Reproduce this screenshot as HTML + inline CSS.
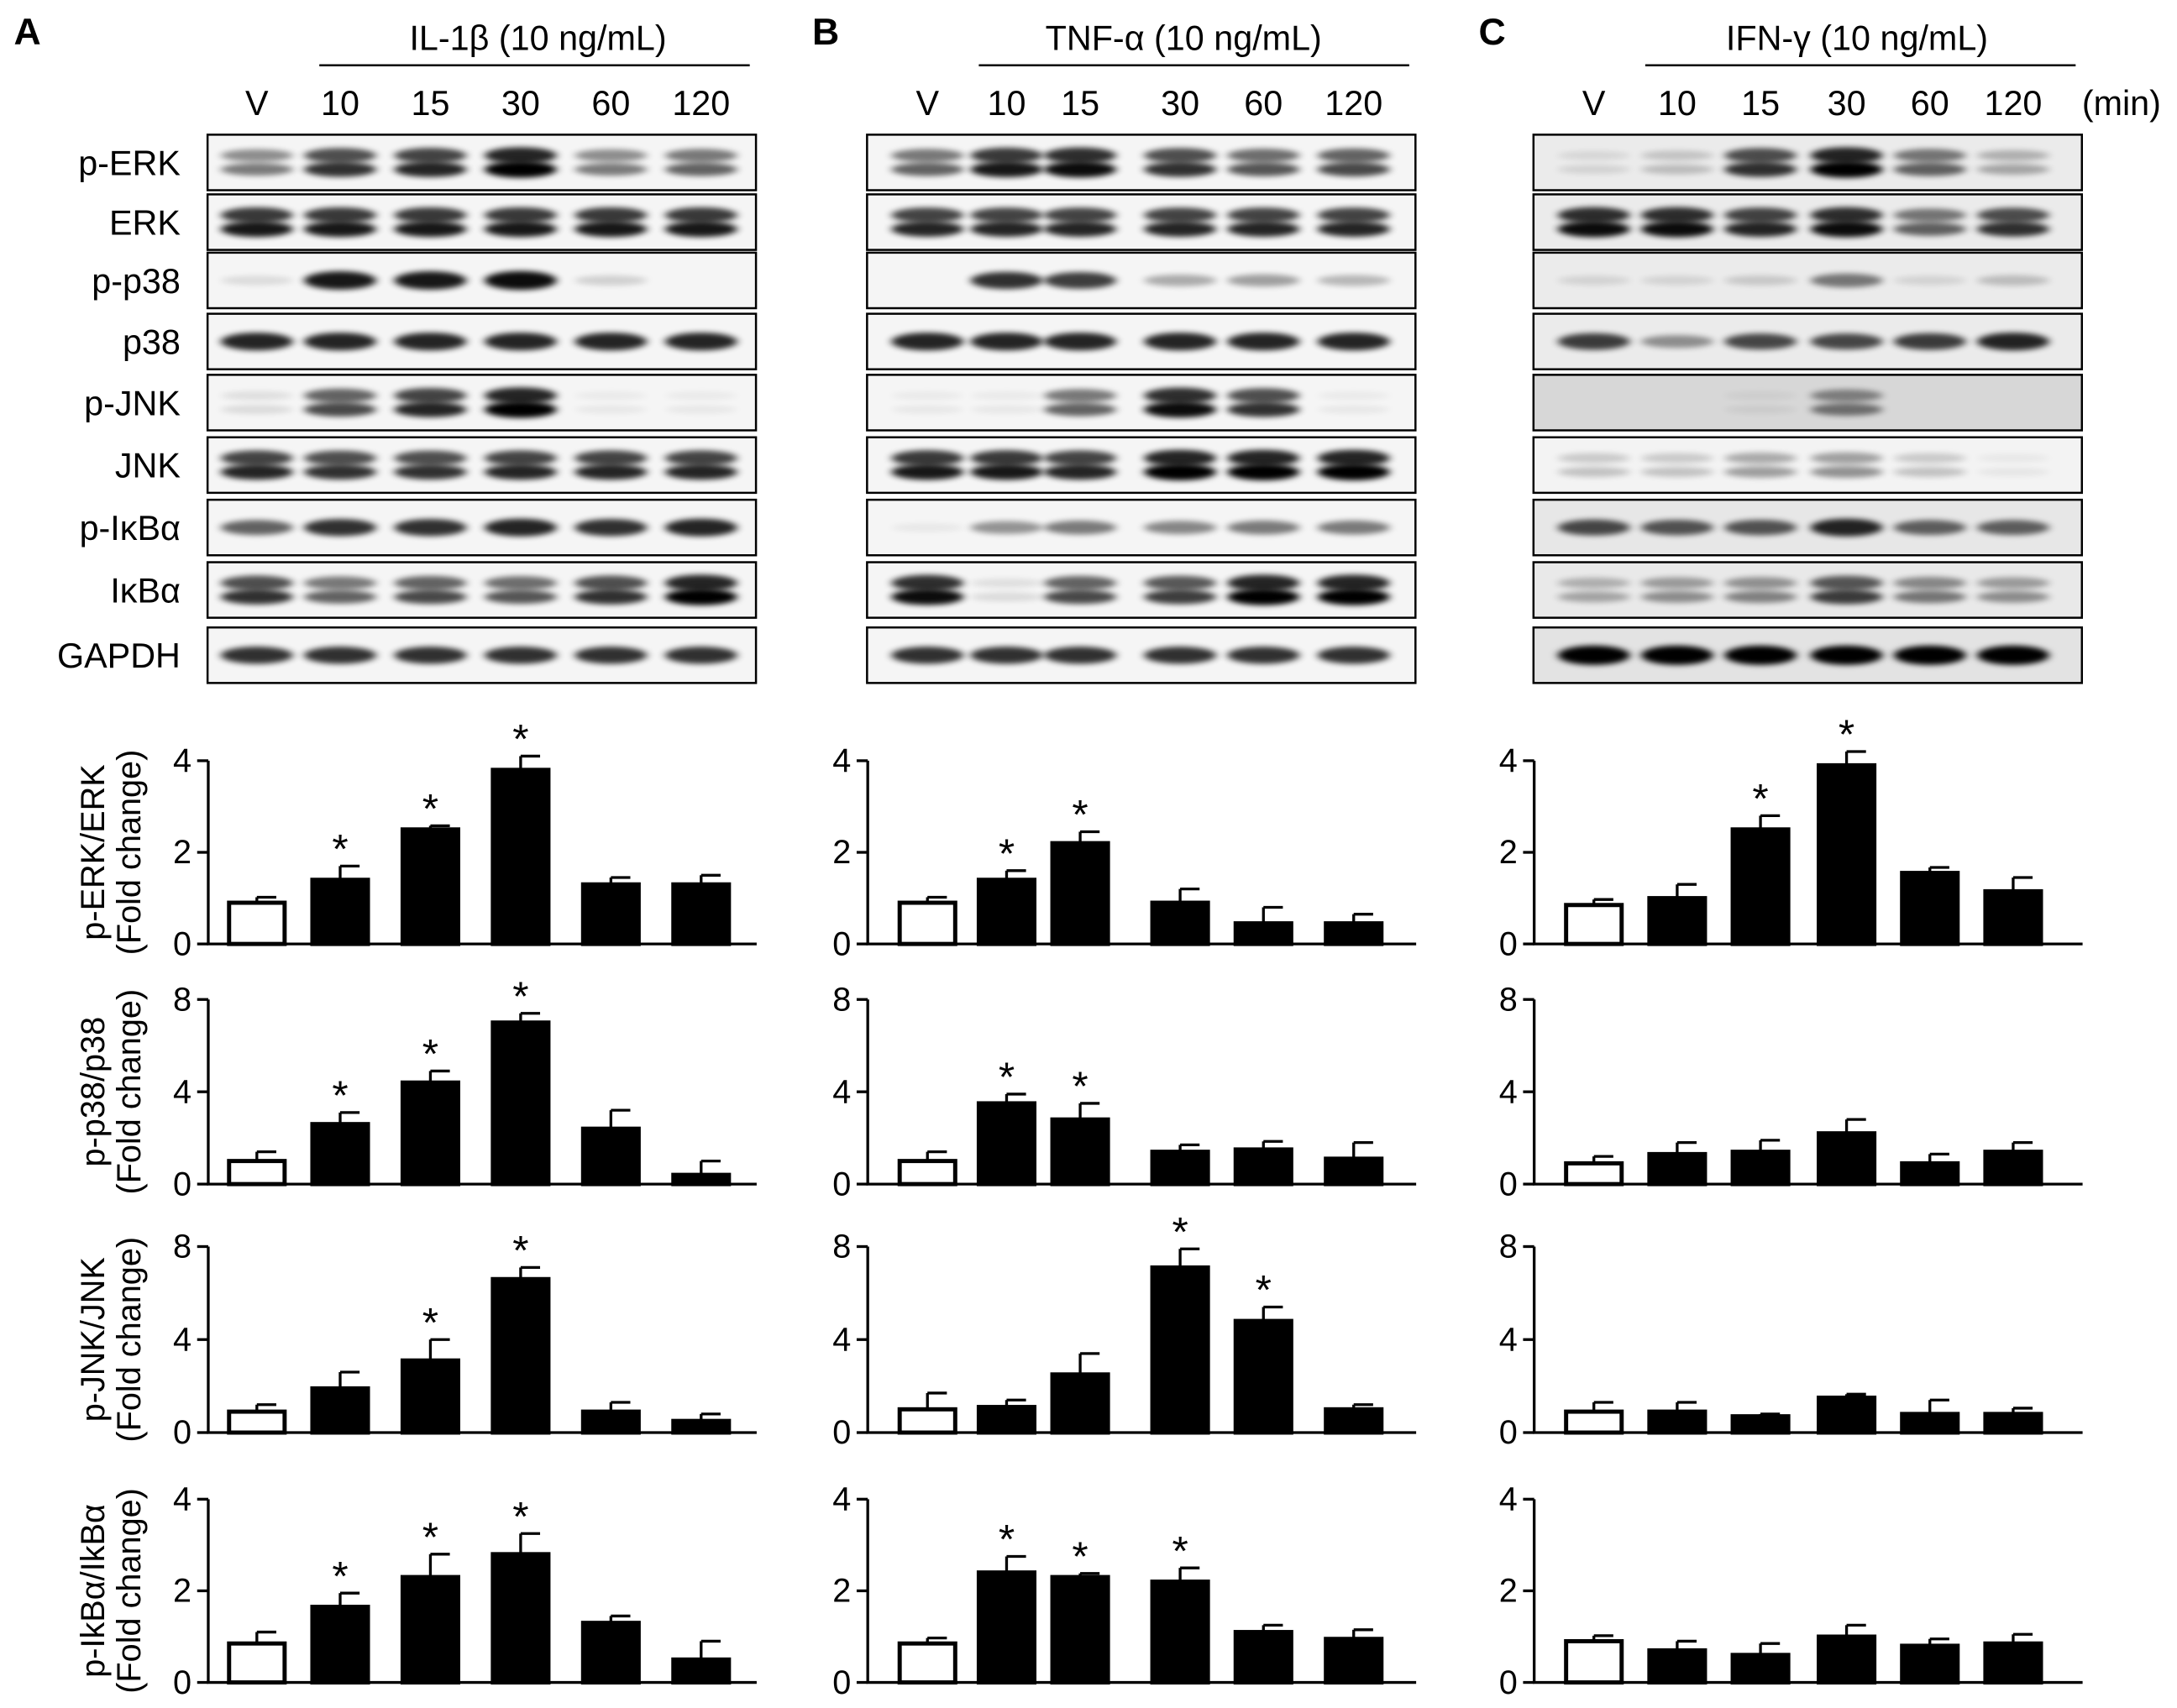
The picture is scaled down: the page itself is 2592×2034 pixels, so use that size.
<!DOCTYPE html>
<html><head><meta charset="utf-8">
<style>
html,body{margin:0;padding:0;background:#fff;}
svg{display:block;font-family:"Liberation Sans",Arial,sans-serif;}
</style></head>
<body>
<svg id="fig" width="2592" height="2034" viewBox="0 0 1568 1230.4" xmlns="http://www.w3.org/2000/svg">
<defs>
<filter id="blur" x="-20%" y="-100%" width="140%" height="300%"><feGaussianBlur stdDeviation="3 2"/></filter>
</defs>
</svg>
<script>
const lanes = ["V","10","15","30","60","120"];
const blotRows = ["p-ERK","ERK","p-p38","p38","p-JNK","JNK","p-IκBα","IκBα","GAPDH"];
const panelTitles = ["IL-1β (10 ng/mL)","TNF-α (10 ng/mL)","IFN-γ (10 ng/mL)"];
const panelLetters = ["A","B","C"];
const bandsA = [[0.5,0.8,0.85,1,0.5,0.6],[0.9,0.9,0.9,0.9,0.9,0.9],[0.1,0.9,0.9,0.95,0.15,0],[0.85,0.85,0.85,0.85,0.85,0.85],[0.1,0.7,0.85,1,0.05,0.05],[0.85,0.8,0.8,0.85,0.85,0.85],[0.6,0.8,0.8,0.85,0.8,0.85],[0.8,0.6,0.7,0.65,0.8,1],[0.8,0.8,0.8,0.8,0.8,0.8]];
const bandsB = [[0.6,0.9,0.95,0.8,0.65,0.7],[0.85,0.85,0.85,0.85,0.85,0.85],[0,0.8,0.75,0.3,0.35,0.25],[0.85,0.85,0.85,0.85,0.85,0.85],[0.05,0.05,0.6,0.95,0.8,0.05],[0.9,0.9,0.85,1,1,1],[0.05,0.4,0.5,0.45,0.5,0.5],[0.95,0.1,0.7,0.75,1,1],[0.8,0.8,0.8,0.8,0.8,0.8]];
const bandsC = [[0.1,0.2,0.8,1,0.6,0.3],[0.95,0.95,0.85,0.95,0.6,0.8],[0.1,0.1,0.15,0.5,0.1,0.2],[0.75,0.4,0.7,0.7,0.75,0.85],[0,0,0.05,0.5,0,0],[0.2,0.2,0.35,0.4,0.2,0.05],[0.7,0.65,0.65,0.85,0.6,0.6],[0.3,0.4,0.45,0.75,0.5,0.4],[1,1,1,1,1,1]];
const doubleBand = [true,true,false,false,true,true,false,true,false];
const bgShade = [[0,0,0,0,0,0,0,0,0],[0,0,0,0,0,0,0,0,0],[0.08,0.08,0.08,0.08,0.25,0.02,0.12,0.1,0.15]];

const chartNames = ["p-ERK/ERK","p-p38/p38","p-JNK/JNK","p-IkBα/IkBα"];
const chartMax = [4,8,8,4];
const tickLabelsA = ["0","2","4"];
const tickLabelsB = ["0","4","8"];
const meansA = [[0.9,1.4,2.5,3.8,1.3,1.3],[1,2.6,4.4,7,2.4,0.4],[0.9,1.9,3.1,6.6,0.9,0.5],[0.85,1.65,2.3,2.8,1.3,0.5]];
const errsA = [[0.12,0.3,0.08,0.3,0.15,0.2],[0.4,0.5,0.5,0.4,0.8,0.6],[0.3,0.7,0.9,0.5,0.4,0.3],[0.25,0.3,0.5,0.45,0.15,0.4]];
const starsA = [[0,1,1,1,0,0],[0,1,1,1,0,0],[0,0,1,1,0,0],[0,1,1,1,0,0]];
const meansB = [[0.9,1.4,2.2,0.9,0.45,0.45],[1,3.5,2.8,1.4,1.5,1.1],[1,1.1,2.5,7.1,4.8,1],[0.85,2.4,2.3,2.2,1.1,0.95]];
const errsB = [[0.12,0.2,0.25,0.3,0.35,0.2],[0.4,0.4,0.7,0.3,0.35,0.7],[0.7,0.3,0.9,0.8,0.6,0.2],[0.12,0.35,0.08,0.3,0.15,0.2]];
const starsB = [[0,1,1,0,0,0],[0,1,1,0,0,0],[0,0,0,1,1,0],[0,1,1,1,0,0]];
const meansC = [[0.85,1,2.5,3.9,1.55,1.15],[0.9,1.3,1.4,2.2,0.9,1.4],[0.9,0.9,0.7,1.5,0.8,0.8],[0.9,0.7,0.6,1,0.8,0.85]];
const errsC = [[0.12,0.3,0.3,0.3,0.12,0.3],[0.3,0.5,0.5,0.6,0.4,0.4],[0.4,0.4,0.1,0.15,0.6,0.25],[0.12,0.2,0.25,0.25,0.15,0.2]];
const starsC = [[0,0,1,1,0,0],[0,0,0,0,0,0],[0,0,0,0,0,0],[0,0,0,0,0,0]];

const panels = [
 {x0:150, lanesX:[185,245,310,375,440,505], bands:bandsA, means:meansA, errs:errsA, stars:starsA},
 {x0:625, lanesX:[668,725,778,850,910,975], bands:bandsB, means:meansB, errs:errsB, stars:starsB},
 {x0:1105, lanesX:[1148,1208,1268,1330,1390,1450], bands:bandsC, means:meansC, errs:errsC, stars:starsC}
];
const blotW = 395;
const rowTops = [97,140,182,226,270,315,360,405,452];
const rowH = 40;
const chartZero = [680,853,1032,1212];
const chartTop = [548,720,898,1080];

const svg = document.getElementById('fig');
const NS = "http://www.w3.org/2000/svg";
function mk(tag, attrs, parent){ const e=document.createElementNS(NS,tag); for(const k in attrs) e.setAttribute(k,attrs[k]); (parent||svg).appendChild(e); return e; }
function txt(s, attrs, parent){ const e=mk('text',attrs,parent); e.textContent=s; return e; }

blotRows.forEach((r,i)=>{
  const t=txt(r,{x:130,y:rowTops[i]+rowH/2+9,'text-anchor':'end','font-size':25});
  
  
});

panels.forEach((p,pi)=>{
  const g=mk('g',{});
  
  
  const L=txt(panelLetters[pi],{x:[10,585,1065][pi],y:32,'font-size':27,'font-weight':'bold'},g);
  
  
  const tl=txt(panelTitles[pi],{x:p.x0+blotW/2+[40,30,35][pi],y:36,'text-anchor':'middle','font-size':25},g);
  
  
  const ln=mk('line',{x1:p.x0+80,x2:p.x0+390,y1:47,y2:47,stroke:'#000','stroke-width':1.5},g);
  
  
  lanes.forEach((l,li)=>{
    const t=txt(l,{x:p.lanesX[li],y:83,'text-anchor':'middle','font-size':25},g);
    
    
  });
  if(pi===2){ const m=txt('(min)',{x:1528,y:83,'text-anchor':'middle','font-size':25},g);
      }
  rowTops.forEach((top,ri)=>{
    const bg=bgShade[pi][ri];
    const c=Math.round(245-bg*120);
    const rect=mk('rect',{x:p.x0-0.5,y:top,width:blotW,height:rowH,fill:`rgb(${c},${c},${c})`,stroke:'#000','stroke-width':1.5},g);
    
    
    p.bands[ri].forEach((v,li)=>{
      if(v<=0) return;
      const op=Math.min(1,v);
      const cy=top+rowH/2;
      if(doubleBand[ri]){
        mk('ellipse',{cx:p.lanesX[li],cy:cy-5,rx:26,ry:3+3*v,fill:'#000',opacity:op*0.85,filter:'url(#blur)'},g);
        mk('ellipse',{cx:p.lanesX[li],cy:cy+5,rx:26,ry:3+3*v,fill:'#000',opacity:op,filter:'url(#blur)'},g);
      } else {
        mk('ellipse',{cx:p.lanesX[li],cy:cy,rx:26,ry:3+4*v,fill:'#000',opacity:op,filter:'url(#blur)'},g);
      }
    });
  });
  chartNames.forEach((cn,ci)=>{
    const cg=mk('g',{},g);
    
    
    const y0=chartZero[ci], yT=chartTop[ci], mx=chartMax[ci];
    const ys=v=>y0-(v/mx)*(y0-yT);
    const ticks = mx===4?tickLabelsA:tickLabelsB;
    const ax=mk('line',{x1:p.x0,x2:p.x0,y1:y0,y2:yT,stroke:'#000','stroke-width':2},cg);
     
    const xa=mk('line',{x1:p.x0-1,x2:p.x0+blotW,y1:y0,y2:y0,stroke:'#000','stroke-width':2},cg);
     
    ticks.forEach(tk=>{
      const v=parseFloat(tk), y=ys(v);
      mk('line',{x1:p.x0-8,x2:p.x0,y1:y,y2:y,stroke:'#000','stroke-width':2},cg);
      const t=txt(tk,{x:p.x0-12,y:y+8,'text-anchor':'end','font-size':24},cg);
       
    });
    if(pi===0){
      const cx=75, cy=(y0+yT)/2;
      const t1=txt(cn,{x:0,y:0,'text-anchor':'middle','font-size':24,transform:`translate(${cx},${cy}) rotate(-90)`},cg);
       
      const t2=txt('(Fold change)',{x:0,y:0,'text-anchor':'middle','font-size':24,transform:`translate(${cx+26},${cy}) rotate(-90)`},cg);
       
    }
    p.means[ci].forEach((m,li)=>{
      const cx=p.lanesX[li], e=p.errs[ci][li];
      const yt=ys(m), ye=ys(m+e);
      const el=mk('line',{x1:cx,x2:cx,y1:yt,y2:ye,stroke:'#000','stroke-width':2},cg);
       
      const ec=mk('line',{x1:cx,x2:cx+14,y1:ye,y2:ye,stroke:'#000','stroke-width':2},cg);
       
      const b=mk('rect',{x:cx-20,y:yt,width:40,height:y0-yt,fill:li===0?'#fff':'#000',stroke:'#000','stroke-width':3},cg);
      
      
      if(p.stars[ci][li]){
        const s=txt('*',{x:cx,y:ye-2,'text-anchor':'middle','font-size':30},cg);
         
      }
    });
  });
});
</script>
</body></html>
